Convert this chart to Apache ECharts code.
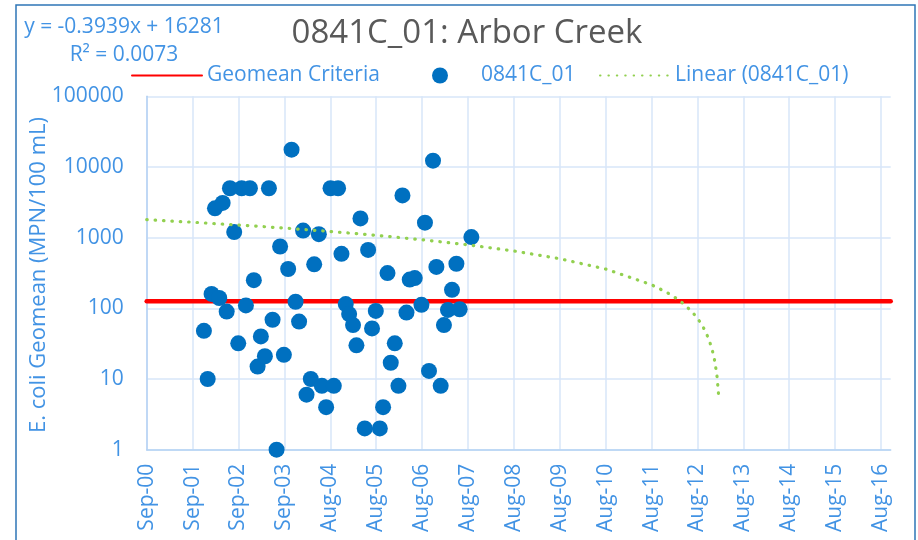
<!DOCTYPE html>
<html><head><meta charset="utf-8">
<script src="https://cdn.jsdelivr.net/npm/echarts@6/dist/echarts.min.js"></script>
<style>html,body{margin:0;padding:0;background:#fff}#c{width:918px;height:540px}</style>
</head><body><div id="c"></div>
<script>
// ---- data ----
const sampleDates = ['2001-11-30','2001-12-30','2002-01-30','2002-04-01','2002-05-30','2002-02-26','2002-04-28','2002-06-25','2002-07-29','2002-08-30',
 '2002-09-26','2002-10-30','2002-12-01','2003-01-01','2003-01-31','2003-02-26','2003-03-30','2003-05-01','2003-05-30','2003-07-01',
 '2003-07-29','2003-08-28','2003-10-01','2003-10-28','2003-11-29','2003-12-27','2004-01-28','2004-02-24','2004-03-29','2004-04-25',
 '2004-06-01','2004-06-25','2004-07-29','2004-09-02','2004-09-28','2004-11-01','2004-11-28','2005-01-01','2005-01-28','2005-02-28',
 '2005-03-27','2005-04-28','2005-06-01','2005-06-28','2005-07-29','2005-08-28','2005-09-29','2005-10-25','2005-11-29','2005-12-25',
 '2006-01-26','2006-02-24','2006-03-28','2006-04-29','2006-05-25','2006-07-04','2006-08-26','2006-09-23','2006-10-25','2006-11-26',
 '2006-12-23','2007-01-26','2007-02-21','2007-03-25','2007-04-26','2007-05-31','2007-06-26','2007-09-27'];
const sampleValues = [48,10,160,140,90,2600,3100,5000,1200,32,
 5000,110,5000,250,15,40,21,5000,69,1,
 750,22,360,17600,124,65,1260,6,10,420,
 1120,8,4,5000,8,5000,590,115,83,58,
 30,1870,2,670,52,92,2,4,315,17,
 32,8,3960,87,255,268,112,1630,13,12300,
 385,8,58,95,183,427,97,1020];
const trendDates = ['2000-09-01','2001-09-01','2002-09-01','2003-09-01','2004-09-01','2005-09-01','2006-09-01','2007-09-01','2008-09-01','2009-09-01',
 '2010-09-01','2011-09-01','2012-01-01','2012-03-01','2012-05-01','2012-07-01','2012-08-01','2012-09-01','2012-10-01','2012-11-01',
 '2012-12-01','2013-01-01','2013-01-15','2013-02-01','2013-02-14'];
const trendValues = [1797,1654,1510,1366,1222,1078,934,791,647,503,
 359,215,167,143.5,119.5,95.5,83.2,71.1,59.2,47.1,
 35.3,23.0,17.5,10.8,5.7];
const criteriaValue = 126;
const axisStart = '2000-09-01';
const axisEnd = '2016-11-13';
const yTicks = [1, 10, 100, 1000, 10000, 100000];
const titleText = '0841C_01: Arbor Creek';
const equationLines = ['y = -0.3939x + 16281', 'R² = 0.0073'];
const seriesNames = ['Geomean Criteria', '0841C_01', 'Linear (0841C_01)'];
const yAxisTitle = 'E. coli Geomean (MPN/100 mL)';

// ---- helpers ----
const BASE = Date.UTC(2000, 8, 1);
const DAY = 86400000;
const MONTHS = ['Jan','Feb','Mar','Apr','May','Jun','Jul','Aug','Sep','Oct','Nov','Dec'];
function dayOf(s){ const p = s.split('-').map(Number); return (Date.UTC(p[0], p[1]-1, p[2]) - BASE) / DAY; }
function fmt(v){ const d = new Date(BASE + v*DAY); return MONTHS[d.getUTCMonth()] + '-' + String(d.getUTCFullYear()%100).padStart(2,'0'); }

const xMin = dayOf(axisStart), xMax = dayOf(axisEnd);
const scatterData = sampleDates.map((d,i)=>[dayOf(d), sampleValues[i]]);
const trendData = trendDates.map((d,i)=>[dayOf(d), trendValues[i]]);
const critData = [[xMin, criteriaValue],[xMax, criteriaValue]];

const FONT = '"Open Sans", sans-serif';
const BLUE_TXT = '#4293E4';
const hidden = { color:'rgba(0,0,0,0)', borderColor:'rgba(0,0,0,0)', borderWidth:0, opacity:0 };

const chart = echarts.init(document.getElementById('c'), null, {renderer:'canvas'});
chart.setOption({
  animation: false,
  backgroundColor: '#fff',
  textStyle: { fontFamily: FONT },
  graphic: [
    { type:'rect', shape:{x:16, y:5, width:899, height:560}, style:{fill:'none', stroke:'#2E75B6', lineWidth:1.5}, silent:true },
    { type:'text', x:467, y:34, style:{ text: titleText, font:'33px "Open Sans", sans-serif', fill:'#595959', align:'center', verticalAlign:'middle'} },
    { type:'text', x:124, y:27, style:{ text: equationLines[0], font:'21px "Open Sans", sans-serif', fill:BLUE_TXT, align:'center', verticalAlign:'middle'} },
    { type:'text', x:124, y:55, style:{ text: equationLines[1], font:'21px "Open Sans", sans-serif', fill:BLUE_TXT, align:'center', verticalAlign:'middle'} },
    { type:'text', x:39, y:275, rotation:Math.PI/2, style:{ text: yAxisTitle, font:'22px "Open Sans", sans-serif', fill:BLUE_TXT, align:'center', verticalAlign:'middle'} }
  ],
  legend: [
    { data:[seriesNames[0]], left:126, top:60, itemWidth:70, itemHeight:16, itemStyle:hidden,
      textStyle:{color:BLUE_TXT, fontSize:21, fontFamily:FONT} },
    { data:[seriesNames[1]], left:427, top:60, itemWidth:16, itemHeight:16,
      textStyle:{color:BLUE_TXT, fontSize:21, fontFamily:FONT, padding:[0,0,0,28]} },
    { data:[seriesNames[2]], left:594, top:60, itemWidth:70, itemHeight:16, itemStyle:hidden,
      textStyle:{color:BLUE_TXT, fontSize:21, fontFamily:FONT} }
  ],
  grid: { left:146.7, right:27.3, top:96.3, bottom:90.3, containLabel:false },
  xAxis: {
    type:'value', min:xMin, max:xMax, interval:365,
    axisLine:{ show:true, lineStyle:{ color:'#B4D2F3', width:1.5 } },
    axisTick:{ show:false },
    splitLine:{ show:true, showMaxLine:false, lineStyle:{ color:'#D7E6F8', width:1.5 } },
    axisLabel:{ rotate:90, margin:14, color:BLUE_TXT, fontSize:21, fontFamily:FONT, showMaxLabel:false, formatter: fmt }
  },
  yAxis: {
    type:'log', logBase:10, min:yTicks[0], max:yTicks[yTicks.length-1],
    axisLine:{ show:true, lineStyle:{ color:'#B4D2F3', width:1.5 } },
    axisTick:{ show:false },
    splitLine:{ show:true, lineStyle:{ color:'#D7E6F8', width:1.5 } },
    axisLabel:{ color:BLUE_TXT, fontSize:21, fontFamily:FONT, margin:23, formatter: v => String(Math.round(v)) }
  },
  series: [
    { name:seriesNames[0], type:'line', data:critData, symbol:'none', z:2,
      lineStyle:{ color:'#FF0000', width:4.5, cap:'round' }, itemStyle:{ color:'#FF0000' } },
    { name:seriesNames[1], type:'scatter', data:scatterData, symbol:'circle', symbolSize:16, z:3,
      itemStyle:{ color:'#0070C0', opacity:1 } },
    { name:seriesNames[2], type:'line', data:trendData, symbol:'none', z:4, smooth:false,
      lineStyle:{ color:'#92D050', width:3.2, type:[0.5, 7.9], cap:'round' }, itemStyle:{ color:'#92D050' } }
  ]
});
</script>
</body></html>
